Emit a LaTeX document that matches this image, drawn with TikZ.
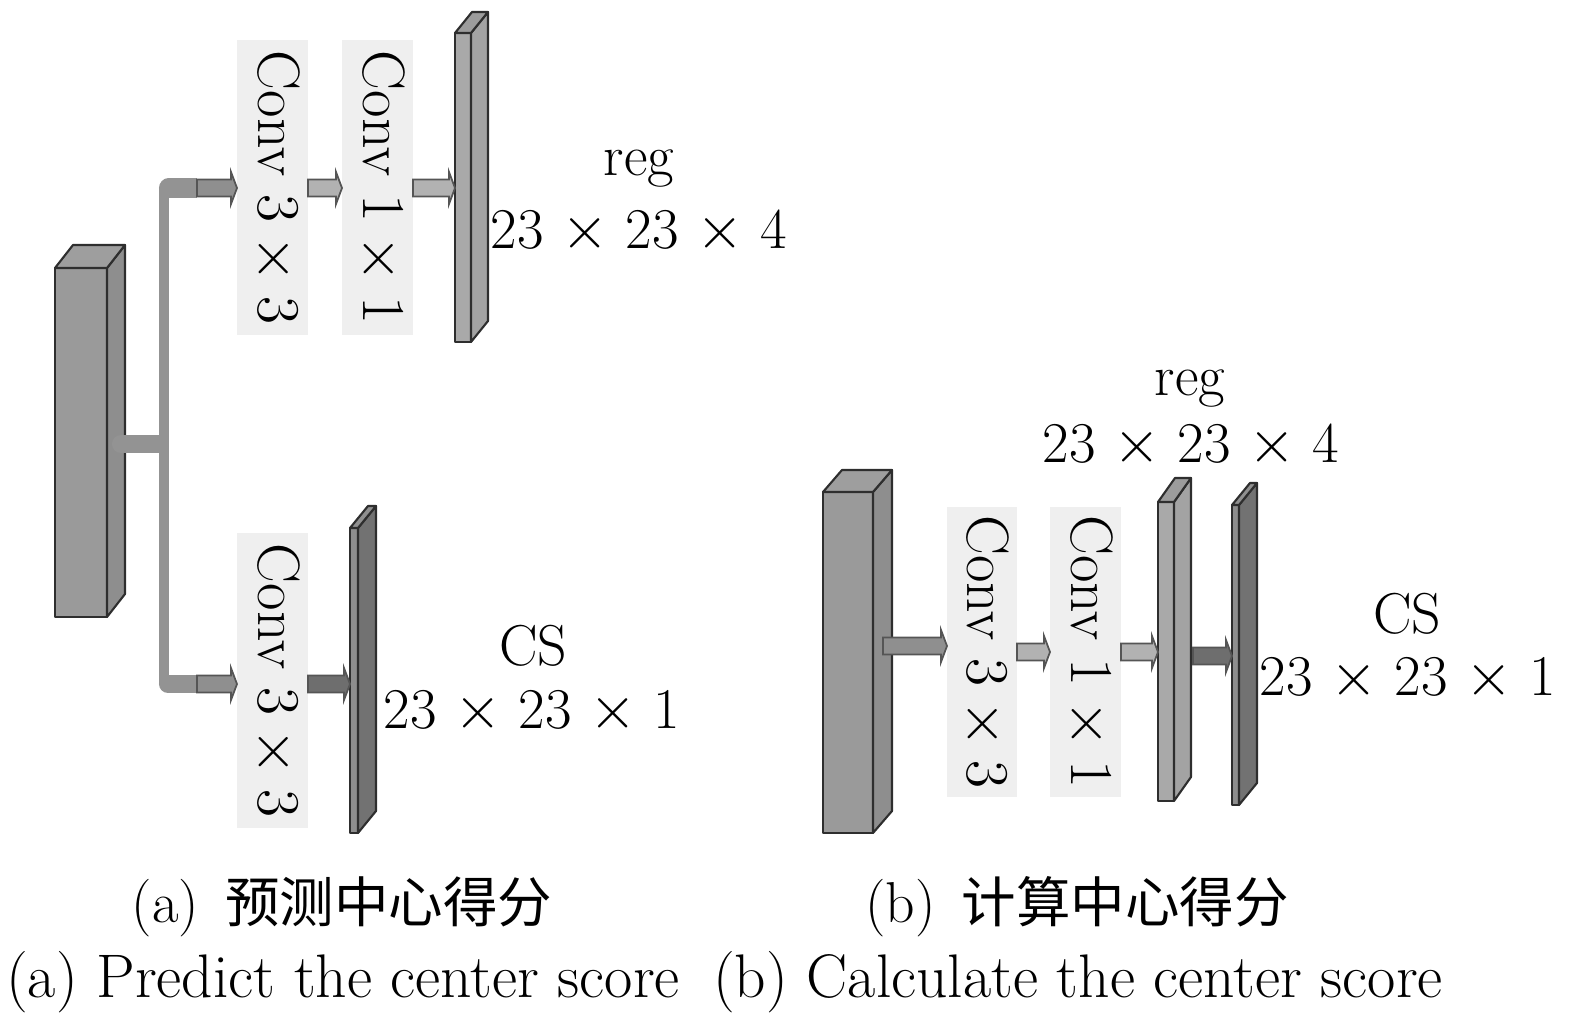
\documentclass[tikz,border=0pt]{standalone}
\usepackage{fontspec}
\newfontfamily\cjk{Noto Sans CJK SC}
\usepackage{graphicx}
\usetikzlibrary{calc,fit}
\definecolor{edge}{HTML}{2E2E2E}
\definecolor{bigF}{HTML}{9A9A9A}
\definecolor{bigS}{HTML}{8E8E8E}
\definecolor{bigT}{HTML}{9E9E9E}
\definecolor{regF}{HTML}{A9A9A9}
\definecolor{regS}{HTML}{A3A3A3}
\definecolor{regT}{HTML}{9C9C9C}
\definecolor{csF}{HTML}{8E8E8E}
\definecolor{csS}{HTML}{727272}
\definecolor{csT}{HTML}{909090}
\definecolor{convfill}{HTML}{EFEFEF}
\definecolor{pipecol}{HTML}{939393}
\definecolor{arrA}{HTML}{8F8F8F}
\definecolor{arrL}{HTML}{B2B2B2}
\definecolor{arrD}{HTML}{6E6E6E}
\definecolor{arredge}{HTML}{555555}
\newcommand\cuboid[8]{%
  \node[face, fill=#8F, fit={(#2,#3) (#4,#5)}] (#1) {};
  \draw[face, fill=#8S] (#1.north east) -- ++(#6,-#7) -- ($(#1.south east)+(#6,-#7)$) -- (#1.south east) -- cycle;
  \draw[face, fill=#8T] (#1.north west) -- ++(#6,-#7) -- ($(#1.north east)+(#6,-#7)$) -- (#1.north east) -- cycle;
}
\newcommand\fatarrow[3]{%
  \draw[arr, fill=#1] ($#2+(0,-8.5)$) -- ($#3+(-6,-8.5)$) -- ($#3+(-6,-16)$) -- #3
    -- ($#3+(-6,16)$) -- ($#3+(-6,8.5)$) -- ($#2+(0,8.5)$) -- cycle;
}
\begin{document}
\begin{tikzpicture}[x=0.01cm,y=-0.01cm,
  every node/.style={font=\fontsize{16.4}{19}\selectfont},
  face/.style={draw=edge, line width=0.6pt, inner sep=0pt, outer sep=0pt, line join=round},
  convbox/.style={fill=convfill, inner sep=0pt, outer sep=0pt},
  convtxt/.style={xshift=0.04cm, font=\fontsize{17}{20}\selectfont},
  arr/.style={draw=arredge, line width=0.5pt, line join=miter},
  pipe/.style={draw=pipecol},
  lbl/.style={anchor=base, inner sep=0pt},
  captxt/.style={anchor=base, inner sep=0pt, font=\fontsize{17.5}{20}\selectfont}]
\useasboundingbox (0,0) rectangle (1575,1030);

% ---------------- (a) ----------------
\cuboid{blka}{55}{268}{107}{617}{18}{23}{big}

\coordinate (jn) at (164,444);
\coordinate (vt) at (164,188);
\coordinate (vb) at (164,684);
\coordinate (pt) at (197,188);
\coordinate (pb) at (197,684);
\coordinate (mb) at ($(blka.east |- jn)+(14,0)$);
\draw[pipe, line width=0.1cm] (vt) -- (vb);
\draw[pipe, line width=0.19cm, line cap=round] ($(vt)+(4.5,0)$) -- ++(1,0);
\draw[pipe, line width=0.19cm] ($(vt)+(4.5,0)$) -- (pt);
\draw[pipe, line width=0.18cm, line cap=round] ($(vb)+(4,0)$) -- ++(1,0);
\draw[pipe, line width=0.18cm] ($(vb)+(4,0)$) -- (pb);
\draw[pipe, line width=0.18cm, line cap=round] (mb) -- ++(1,0);
\draw[pipe, line width=0.18cm] (mb) -- (jn);

\node[convbox, fit={(237,40) (308,335)}] (c1) {};
\node[convtxt] (t1) at (c1.center) {\rotatebox{-90}{Conv $3\times 3$}};
\node[convbox, fit={(342,40) (413,335)}] (c2) {};
\node[convtxt] (t2) at (c2.center) {\rotatebox{-90}{Conv $1\times 1$}};
\node[convbox, fit={(237,533) (308,828)}] (c3) {};
\node[convtxt] (t3) at (c3.center) {\rotatebox{-90}{Conv $3\times 3$}};

\cuboid{rega}{455}{33}{471}{342}{17}{21}{reg}
\cuboid{csa}{350}{528}{358}{833}{18}{22}{cs}

\fatarrow{arrA}{(pt)}{(c1.west |- pt)}
\fatarrow{arrL}{(c1.east |- pt)}{(c2.west |- pt)}
\fatarrow{arrL}{(c2.east |- pt)}{(rega.west |- pt)}
\fatarrow{arrA}{(pb)}{(c3.west |- pb)}
\fatarrow{arrD}{(c3.east |- pb)}{(csa.west |- pb)}

\node[lbl] (rega1) at (639,175) {reg};
\node[lbl] (rega2) at (639,248) {23 $\times$ 23 $\times$ 4};
\node[lbl] (csa1) at (533,665) {CS};
\node[lbl] (csa2) at (532,728) {23 $\times$ 23 $\times$ 1};

% ---------------- (b) ----------------
\cuboid{blkb}{823}{492}{873}{833}{19}{22}{big}
\node[convbox, fit={(947,507) (1017,797)}] (c4) {};
\node[convtxt] (t4) at (c4.center) {\rotatebox{-90}{Conv $3\times 3$}};
\node[convbox, fit={(1050,507) (1121,797)}] (c5) {};
\node[convtxt] (t5) at (c5.center) {\rotatebox{-90}{Conv $1\times 1$}};
\cuboid{regb}{1158}{502}{1174}{801}{17}{24}{reg}
\cuboid{csb}{1232}{505}{1239}{805}{18}{22}{cs}

\coordinate (b0) at ($(blkb.east |- 0,646)+(10,0)$);
\coordinate (r0) at ($(regb.east |- 0,656)+(19,0)$);
\fatarrow{arrA}{(b0)}{(c4.west |- b0)}
\fatarrow{arrL}{(c4.east)}{(c5.west)}
\fatarrow{arrL}{(c5.east)}{(regb.west |- c5.east)}
\fatarrow{arrD}{(r0)}{(csb.west |- r0)}

\node[lbl] (regb1) at (1190,395) {reg};
\node[lbl] (regb2) at (1191,462) {23 $\times$ 23 $\times$ 4};
\node[lbl] (csb1) at (1407,633) {CS};
\node[lbl] (csb2) at (1408,695) {23 $\times$ 23 $\times$ 1};

% ---------------- captions ----------------
\node[lbl] (capa) at (342,922) {(a)\hspace{0.45em}{\cjk\fontsize{15.5}{19}\selectfont 预测中心得分}};
\node[lbl] (capb) at (1077,922) {(b)\hspace{0.45em}{\cjk\fontsize{15.5}{19}\selectfont 计算中心得分}};
\node[captxt] (enga) at (343,997) {(a) Predict the center score};
\node[captxt] (engb) at (1078,997) {(b) Calculate the center score};
\end{tikzpicture}
\end{document}
